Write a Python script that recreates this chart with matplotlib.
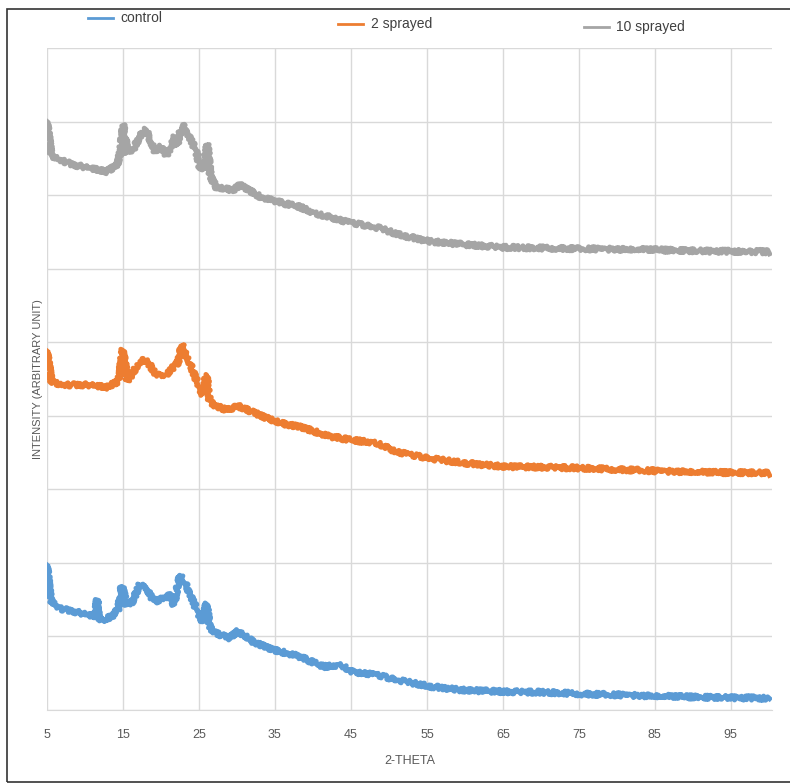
import matplotlib.pyplot as plt
from matplotlib.lines import Line2D
from matplotlib.patches import Rectangle

# values (intensity in grid units, arbitrary)
control_x = [5, 5.3, 5.6, 6.7, 8.5, 10.7, 11.4, 11.6, 11.8, 12.2, 13.5, 14.4, 14.85, 15.5,
             16.2, 17.2, 18, 19.1, 20.2, 21.3, 21.7, 22.0, 22.5, 23.5, 24.7, 25.5, 26.0,
             26.4, 27.3, 29, 30.1, 32.1, 34.7, 37.9, 41.4, 43.8, 45.1, 48.4, 51, 55.4,
             59.7, 65, 70.8, 75.1, 85.2, 92.6, 100.1]
control_y = [1.97, 1.65, 1.47, 1.38, 1.34, 1.29, 1.28, 1.50, 1.26, 1.22, 1.27, 1.38, 1.68, 1.43,
             1.47, 1.70, 1.68, 1.47, 1.52, 1.56, 1.43, 1.60, 1.83, 1.66, 1.36, 1.20, 1.45,
             1.12, 1.04, 0.98, 1.07, 0.93, 0.82, 0.74, 0.59, 0.61, 0.52, 0.48, 0.41, 0.32,
             0.27, 0.25, 0.24, 0.22, 0.19, 0.17, 0.16]

sprayed2_x = [5, 5.3, 5.6, 6.7, 8.5, 10.7, 12.9, 14.4, 15.0, 15.6, 16.5, 17.2, 18, 18.6,
              19.3, 20.7, 21.7, 22.2, 22.8, 23.8, 24.9, 25.5, 26.0, 26.4, 26.9, 28.6, 30.2,
              33.9, 35.7, 38.3, 42.2, 45.1, 48.4, 51, 55.4, 59.7, 65, 70.8, 75.1, 85.2,
              92.6, 100.1]
sprayed2_y = [4.88, 4.65, 4.47, 4.42, 4.42, 4.42, 4.39, 4.47, 4.90, 4.47, 4.62, 4.74, 4.76, 4.68,
              4.56, 4.56, 4.67, 4.72, 4.97, 4.72, 4.42, 4.29, 4.56, 4.20, 4.15, 4.08, 4.13,
              3.97, 3.90, 3.85, 3.72, 3.67, 3.63, 3.51, 3.42, 3.36, 3.31, 3.30, 3.29, 3.25,
              3.23, 3.22]

sprayed10_x = [5, 5.3, 5.6, 6.7, 8.5, 10.7, 12.85, 14.2, 14.7, 15.0, 15.6, 16.5, 17.2, 18,
               18.6, 19.3, 20, 20.8, 21.7, 22.1, 22.8, 23.8, 24.7, 25.1, 25.7, 26.1, 26.5,
               27.3, 29.5, 30.4, 33, 36.1, 38.3, 40, 44.4, 48.8, 51.4, 55.4, 59.7, 65, 70.8,
               75.1, 83.9, 90.5, 100.1]
sprayed10_y = [8.0, 7.75, 7.53, 7.48, 7.41, 7.37, 7.32, 7.41, 7.60, 7.96, 7.57, 7.65, 7.80, 7.89,
               7.75, 7.58, 7.66, 7.53, 7.80, 7.68, 7.96, 7.78, 7.58, 7.39, 7.35, 7.69, 7.26,
               7.10, 7.07, 7.14, 6.98, 6.89, 6.84, 6.76, 6.64, 6.55, 6.46, 6.37, 6.33, 6.29, 6.28,
               6.27, 6.26, 6.24, 6.23]

x_ticks = [5, 15, 25, 35, 45, 55, 65, 75, 85, 95]
series = [("control", "#5B9BD5"), ("2 sprayed", "#ED7D31"), ("10 sprayed", "#A5A5A5")]

plt.rcParams['font.family'] = ['Liberation Sans Narrow', 'Liberation Sans', 'DejaVu Sans']

fig = plt.figure(figsize=(7.9, 7.84), dpi=100)
ax = fig.add_axes([0.0595, 0.0944, 0.9175, 0.8444])

data = [(control_x, control_y), (sprayed2_x, sprayed2_y), (sprayed10_x, sprayed10_y)]
for (xs, ys), (name, col) in zip(data, series):
    ln, = ax.plot(xs, ys, color=col, lw=3.6, solid_joinstyle='round')
    # rough look of the raw scan
    ln.set_sketch_params(scale=2.2, length=1.2, randomness=2)

ax.set_xlim(5, 100.4)
ax.set_ylim(0, 9)
ax.set_xticks(x_ticks)
ax.set_yticks(range(0, 10))
ax.set_yticklabels([])
ax.tick_params(length=0, labelsize=9, labelcolor='#595959', pad=14)
ax.grid(True, color='#d9d9d9', lw=1)
ax.set_axisbelow(True)
for s in ['left', 'right', 'top']:
    ax.spines[s].set_visible(False)
ax.spines['bottom'].set_color('#d9d9d9')
ax.set_xlabel('2-THETA', fontsize=9, color='#595959', labelpad=10)
ax.set_ylabel('INTENSITY (ARBITRARY UNIT)', fontsize=8, color='#595959')
ax.yaxis.set_label_coords(-0.006, 0.5)

# legend along the top
leg_pos = [(0.111, 0.977), (0.428, 0.969), (0.739, 0.966)]
for (name, col), (lx, ly) in zip(series, leg_pos):
    fig.add_artist(Line2D([lx, lx + 0.032], [ly, ly], color=col, lw=2, transform=fig.transFigure))
    fig.text(lx + 0.041, ly, name, fontsize=10, color='#404040', va='center')

# outer frame
fig.add_artist(Rectangle((0.009, 0.003), 1.1, 0.985, transform=fig.transFigure,
                         fill=False, edgecolor='#333333', lw=1.2))

fig.savefig('out.png', dpi=100)
